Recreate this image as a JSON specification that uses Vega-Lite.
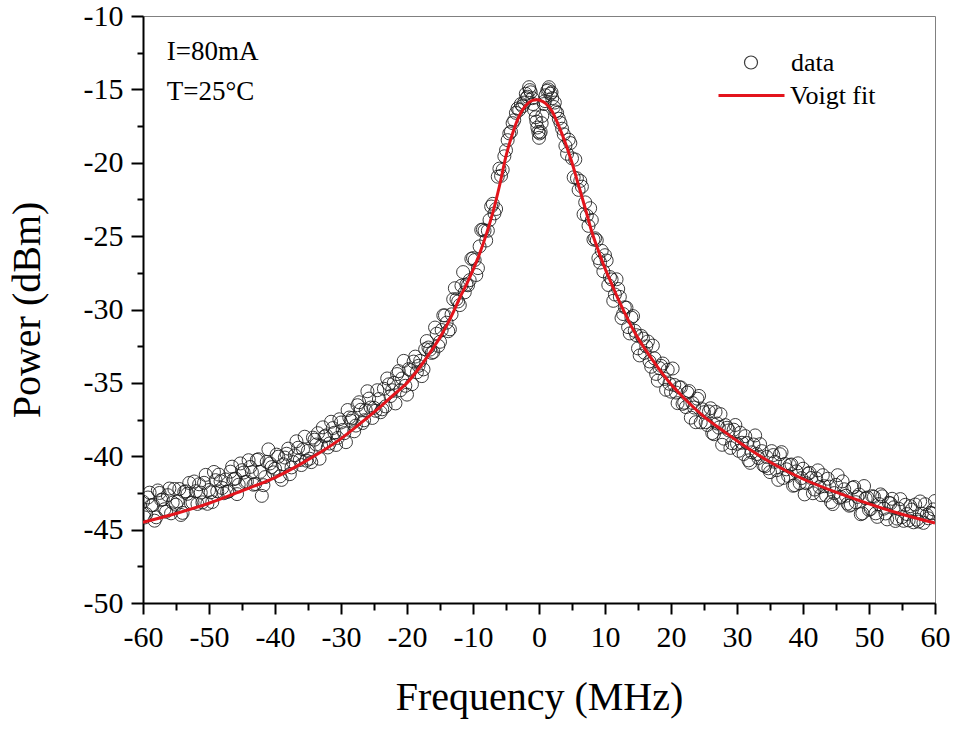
{
  "$schema": "https://vega.github.io/schema/vega-lite/v6.json",
  "width": 792,
  "height": 587,
  "autosize": {"type": "none"},
  "padding": {"left": 143, "top": 16, "right": 22, "bottom": 134},
  "background": "white",
  "config": {
    "font": "Liberation Serif",
    "view": {"stroke": "#808080", "strokeWidth": 1},
    "axis": {
      "grid": false,
      "domainColor": "black",
      "domainWidth": 2,
      "tickColor": "black",
      "tickWidth": 2,
      "labelFont": "Liberation Serif",
      "labelFontSize": 30,
      "labelColor": "black",
      "titleFont": "Liberation Serif",
      "titleFontSize": 40,
      "titleFontWeight": "normal",
      "titleColor": "black",
      "labelOverlap": false,
      "labelFlush": false
    },
    "legend": {
      "title": null,
      "orient": "none",
      "padding": 0,
      "labelFont": "Liberation Serif",
      "labelFontSize": 26,
      "labelColor": "black"
    }
  },
  "datasets": {
    "pts": [
      {"f": -60, "p": -43.1}, {"f": -59.5, "p": -43.94}, {"f": -59, "p": -42.48}, {"f": -58.5, "p": -43.32}, {"f": -58, "p": -44.16},
      {"f": -57.5, "p": -42.5}, {"f": -57, "p": -42.94}, {"f": -56.5, "p": -43.78}, {"f": -56, "p": -42.2}, {"f": -55.5, "p": -43.16},
      {"f": -55, "p": -43.3}, {"f": -54.5, "p": -42.23}, {"f": -54, "p": -43.86}, {"f": -53.5, "p": -42.39}, {"f": -53, "p": -41.82},
      {"f": -52.5, "p": -43.15}, {"f": -52, "p": -42.38}, {"f": -51.5, "p": -41.91}, {"f": -51, "p": -43.14}, {"f": -50.5, "p": -41.27},
      {"f": -50, "p": -42.3}, {"f": -49.5, "p": -43.12}, {"f": -49, "p": -41.63}, {"f": -48.5, "p": -41.25}, {"f": -48, "p": -42.16},
      {"f": -47.5, "p": -41.58}, {"f": -47, "p": -42.39}, {"f": -46.5, "p": -40.71}, {"f": -46, "p": -41.52}, {"f": -45.5, "p": -41.94},
      {"f": -45, "p": -40.95}, {"f": -44.5, "p": -41.76}, {"f": -44, "p": -40.27}, {"f": -43.5, "p": -41.08}, {"f": -43, "p": -41.89},
      {"f": -42.5, "p": -40.2}, {"f": -42, "p": -42.7}, {"f": -41.5, "p": -41.42}, {"f": -41, "p": -39.53}, {"f": -40.5, "p": -40.74},
      {"f": -40, "p": -40.85}, {"f": -39.5, "p": -40.03}, {"f": -39, "p": -41.61}, {"f": -38.5, "p": -40.09}, {"f": -38, "p": -39.48},
      {"f": -37.5, "p": -40.76}, {"f": -37, "p": -39.94}, {"f": -36.5, "p": -39.42}, {"f": -36, "p": -40.6}, {"f": -35.5, "p": -38.67},
      {"f": -35, "p": -39.63}, {"f": -34.5, "p": -40.4}, {"f": -34, "p": -38.87}, {"f": -33.5, "p": -38.43}, {"f": -33, "p": -39.3},
      {"f": -32.5, "p": -38.65}, {"f": -32, "p": -39.4}, {"f": -31.5, "p": -37.65}, {"f": -31, "p": -38.4}, {"f": -30.5, "p": -38.75},
      {"f": -30, "p": -37.7}, {"f": -29.5, "p": -38.43}, {"f": -29, "p": -36.85}, {"f": -28.5, "p": -37.58}, {"f": -28, "p": -38.3},
      {"f": -27.5, "p": -36.52}, {"f": -27, "p": -36.83}, {"f": -26.5, "p": -37.55}, {"f": -26, "p": -35.57}, {"f": -25.5, "p": -36.68},
      {"f": -25, "p": -36.7}, {"f": -24.5, "p": -35.5}, {"f": -24, "p": -37.0}, {"f": -23.5, "p": -35.4}, {"f": -23, "p": -34.7},
      {"f": -22.5, "p": -35.9}, {"f": -22, "p": -35.0}, {"f": -21.5, "p": -34.4}, {"f": -21, "p": -35.5}, {"f": -20.5, "p": -33.5},
      {"f": -20, "p": -35.8}, {"f": -19.5, "p": -34.13}, {"f": -19, "p": -33.55}, {"f": -18.5, "p": -34.28}, {"f": -18, "p": -33.5},
      {"f": -17.5, "p": -34.08}, {"f": -17, "p": -32.15}, {"f": -16.5, "p": -32.73}, {"f": -16, "p": -32.9}, {"f": -15.5, "p": -31.65},
      {"f": -15, "p": -32.2}, {"f": -14.5, "p": -30.4}, {"f": -14, "p": -30.9}, {"f": -13.5, "p": -31.35}, {"f": -13, "p": -29.3},
      {"f": -12.5, "p": -29.3}, {"f": -12, "p": -29.7}, {"f": -11.5, "p": -27.45}, {"f": -11, "p": -28.3}, {"f": -10.5, "p": -28.0},
      {"f": -10, "p": -26.5}, {"f": -9.5, "p": -27.65}, {"f": -9, "p": -25.7}, {"f": -8.5, "p": -24.55}, {"f": -8, "p": -25.3},
      {"f": -7.5, "p": -23.9}, {"f": -7, "p": -22.8}, {"f": -6.5, "p": -23.15}, {"f": -6, "p": -20.4}, {"f": -5.5, "p": -20.48},
      {"f": -5, "p": -19.15}, {"f": -4.5, "p": -18.0}, {"f": -4, "p": -17.3}, {"f": -3.5, "p": -16.6}, {"f": -3, "p": -16.4},
      {"f": -2.5, "p": -16.15}, {"f": -2.25, "p": -15.9}, {"f": -2, "p": -15.3}, {"f": -1.75, "p": -15.5}, {"f": -1.5, "p": -14.85},
      {"f": -1.25, "p": -15.2}, {"f": -1, "p": -15.6}, {"f": -0.75, "p": -16.4}, {"f": -0.5, "p": -16.9}, {"f": -0.25, "p": -17.6},
      {"f": 0, "p": -18.3}, {"f": 0.25, "p": -17.9}, {"f": 0.5, "p": -16.8}, {"f": 0.75, "p": -16.0}, {"f": 1, "p": -15.4},
      {"f": 1.25, "p": -15.1}, {"f": 1.5, "p": -14.85}, {"f": 1.75, "p": -15.3}, {"f": 2, "p": -15.6}, {"f": 2.25, "p": -16.2},
      {"f": 2.5, "p": -16.5}, {"f": 3, "p": -17.0}, {"f": 3.5, "p": -17.68}, {"f": 4, "p": -18.85}, {"f": 4.5, "p": -18.43},
      {"f": 5, "p": -19.7}, {"f": 5.5, "p": -19.78}, {"f": 6, "p": -21.85}, {"f": 6.5, "p": -21.63}, {"f": 7, "p": -22.7},
      {"f": 7.5, "p": -24.3}, {"f": 8, "p": -23.9}, {"f": 8.5, "p": -25.15}, {"f": 9, "p": -26.5}, {"f": 9.5, "p": -26.0},
      {"f": 10, "p": -26.3}, {"f": 10.5, "p": -28.33}, {"f": 11, "p": -27.95}, {"f": 11.5, "p": -28.98}, {"f": 12, "p": -28.6},
      {"f": 12.5, "p": -30.58}, {"f": 13, "p": -29.85}, {"f": 13.5, "p": -31.2}, {"f": 14, "p": -30.55}, {"f": 14.5, "p": -31.45},
      {"f": 15, "p": -32.65}, {"f": 15.5, "p": -31.8}, {"f": 16, "p": -32.95}, {"f": 16.5, "p": -32.18}, {"f": 17, "p": -33.9},
      {"f": 17.5, "p": -33.33}, {"f": 18, "p": -34.85}, {"f": 18.5, "p": -33.84}, {"f": 19, "p": -34.73}, {"f": 19.5, "p": -34.11},
      {"f": 20, "p": -35.6}, {"f": 20.5, "p": -35.14}, {"f": 21, "p": -36.38}, {"f": 21.5, "p": -35.31}, {"f": 22, "p": -36.35},
      {"f": 22.5, "p": -35.66}, {"f": 23, "p": -37.37}, {"f": 23.5, "p": -36.68}, {"f": 24, "p": -36.08}, {"f": 24.5, "p": -37.69},
      {"f": 25, "p": -37.0}, {"f": 25.5, "p": -37.87}, {"f": 26, "p": -36.73}, {"f": 26.5, "p": -38.5}, {"f": 27, "p": -37.77},
      {"f": 27.5, "p": -37.13}, {"f": 28, "p": -38.8}, {"f": 28.5, "p": -38.06}, {"f": 29, "p": -39.43}, {"f": 29.5, "p": -38.19},
      {"f": 30, "p": -39.15}, {"f": 30.5, "p": -38.4}, {"f": 31, "p": -39.85}, {"f": 31.5, "p": -39.1}, {"f": 32, "p": -40.45},
      {"f": 32.5, "p": -39.2}, {"f": 33, "p": -39.85}, {"f": 33.5, "p": -39.18}, {"f": 34, "p": -40.62}, {"f": 34.5, "p": -40.05},
      {"f": 35, "p": -41.08}, {"f": 35.5, "p": -39.92}, {"f": 36, "p": -40.95}, {"f": 36.5, "p": -39.86}, {"f": 37, "p": -41.48},
      {"f": 37.5, "p": -40.89}, {"f": 38, "p": -40.6}, {"f": 38.5, "p": -42.01}, {"f": 39, "p": -41.03}, {"f": 39.5, "p": -41.84},
      {"f": 40, "p": -40.85}, {"f": 40.5, "p": -41.84}, {"f": 41, "p": -41.13}, {"f": 41.5, "p": -42.52}, {"f": 42, "p": -41.51},
      {"f": 42.5, "p": -42.1}, {"f": 43, "p": -41.29}, {"f": 43.5, "p": -42.68}, {"f": 44, "p": -42.07}, {"f": 44.5, "p": -43.26},
      {"f": 45, "p": -41.95}, {"f": 45.5, "p": -42.83}, {"f": 46, "p": -41.71}, {"f": 46.5, "p": -42.69}, {"f": 47, "p": -43.37},
      {"f": 47.5, "p": -42.15}, {"f": 48, "p": -43.13}, {"f": 48.5, "p": -42.61}, {"f": 49, "p": -43.89}, {"f": 49.5, "p": -42.87},
      {"f": 50, "p": -43.65}, {"f": 50.5, "p": -42.72}, {"f": 51, "p": -43.89}, {"f": 51.5, "p": -43.26}, {"f": 52, "p": -42.73},
      {"f": 52.5, "p": -43.9}, {"f": 53, "p": -43.17}, {"f": 53.5, "p": -42.9}, {"f": 54, "p": -44.41}, {"f": 54.5, "p": -43.58},
      {"f": 55, "p": -44.15}, {"f": 55.5, "p": -43.31}, {"f": 56, "p": -44.37}, {"f": 56.5, "p": -43.63}, {"f": 57, "p": -43.29},
      {"f": 57.5, "p": -44.45}, {"f": 58, "p": -43.91}, {"f": 58.5, "p": -43.27}, {"f": 59, "p": -44.23}, {"f": 59.5, "p": -43.89},
      {"f": 60, "p": -43.05},
      {"f": -59.75, "p": -44.17}, {"f": -59.25, "p": -42.81}, {"f": -58.75, "p": -43.35}, {"f": -58.25, "p": -44.39}, {"f": -57.75, "p": -42.33},
      {"f": -57.25, "p": -42.97}, {"f": -56.75, "p": -43.61}, {"f": -56.25, "p": -42.65}, {"f": -55.75, "p": -43.89}, {"f": -55.25, "p": -42.23},
      {"f": -54.75, "p": -43.07}, {"f": -54.25, "p": -44.0}, {"f": -53.75, "p": -42.43}, {"f": -53.25, "p": -42.56}, {"f": -52.75, "p": -43.19},
      {"f": -52.25, "p": -41.72}, {"f": -51.75, "p": -43.25}, {"f": -51.25, "p": -42.48}, {"f": -50.75, "p": -41.81}, {"f": -50.25, "p": -43.24},
      {"f": -49.75, "p": -42.46}, {"f": -49.25, "p": -41.07}, {"f": -48.75, "p": -42.39}, {"f": -48.25, "p": -41.7}, {"f": -47.75, "p": -42.52},
      {"f": -47.25, "p": -42.43}, {"f": -46.75, "p": -41.05}, {"f": -46.25, "p": -41.56}, {"f": -45.75, "p": -42.58}, {"f": -45.25, "p": -40.49},
      {"f": -44.75, "p": -41.11}, {"f": -44.25, "p": -41.72}, {"f": -43.75, "p": -40.73}, {"f": -43.25, "p": -41.94}, {"f": -42.75, "p": -40.25},
      {"f": -42.25, "p": -41.06}, {"f": -41.75, "p": -41.97}, {"f": -41.25, "p": -40.38}, {"f": -40.75, "p": -40.49}, {"f": -40.25, "p": -41.1},
      {"f": -39.75, "p": -39.89}, {"f": -39.25, "p": -41.37}, {"f": -38.75, "p": -40.55}, {"f": -38.25, "p": -39.83}, {"f": -37.75, "p": -41.22},
      {"f": -37.25, "p": -40.4}, {"f": -36.75, "p": -38.98}, {"f": -36.25, "p": -40.26}, {"f": -35.75, "p": -39.53}, {"f": -35.25, "p": -40.3},
      {"f": -34.75, "p": -40.17}, {"f": -34.25, "p": -38.73}, {"f": -33.75, "p": -39.2}, {"f": -33.25, "p": -40.17}, {"f": -32.75, "p": -38.03},
      {"f": -32.25, "p": -38.58}, {"f": -31.75, "p": -39.13}, {"f": -31.25, "p": -38.08}, {"f": -30.75, "p": -39.23}, {"f": -30.25, "p": -37.48},
      {"f": -29.75, "p": -38.21}, {"f": -29.25, "p": -39.04}, {"f": -28.75, "p": -37.36}, {"f": -28.25, "p": -37.39}, {"f": -27.75, "p": -37.91},
      {"f": -27.25, "p": -36.32}, {"f": -26.75, "p": -37.74}, {"f": -26.25, "p": -36.86}, {"f": -25.75, "p": -36.07}, {"f": -25.25, "p": -37.39},
      {"f": -24.75, "p": -36.9}, {"f": -24.25, "p": -36.1}, {"f": -23.75, "p": -36.8}, {"f": -23.25, "p": -36.6}, {"f": -22.75, "p": -35.1},
      {"f": -22.25, "p": -35.5}, {"f": -21.75, "p": -36.4}, {"f": -21.25, "p": -34.2}, {"f": -20.75, "p": -34.7}, {"f": -20.25, "p": -35.2},
      {"f": -19.75, "p": -34.06}, {"f": -19.25, "p": -35.09}, {"f": -18.75, "p": -33.21}, {"f": -18.25, "p": -33.84}, {"f": -17.75, "p": -34.54},
      {"f": -17.25, "p": -32.71}, {"f": -16.75, "p": -32.59}, {"f": -16.25, "p": -32.96}, {"f": -15.75, "p": -31.23}, {"f": -15.25, "p": -32.48},
      {"f": -14.75, "p": -31.4}, {"f": -14.25, "p": -30.4}, {"f": -13.75, "p": -31.48}, {"f": -13.25, "p": -30.33}, {"f": -12.75, "p": -28.55},
      {"f": -12.25, "p": -29.45}, {"f": -11.75, "p": -28.38}, {"f": -11.25, "p": -28.83}, {"f": -10.75, "p": -28.35}, {"f": -10.25, "p": -26.55},
      {"f": -9.75, "p": -26.63}, {"f": -9.25, "p": -27.18}, {"f": -8.75, "p": -24.58}, {"f": -8.25, "p": -24.63}, {"f": -7.75, "p": -24.63},
      {"f": -7.25, "p": -22.98}, {"f": -6.75, "p": -23.45}, {"f": -6.25, "p": -20.95}, {"f": -5.75, "p": -20.89}, {"f": -5.25, "p": -19.56},
      {"f": -4.75, "p": -18.46}, {"f": -4.25, "p": -17.89}, {"f": -3.75, "p": -17.1}, {"f": -3.25, "p": -16.3}, {"f": -2.75, "p": -16.0},
      {"f": -1.9, "p": -15.6}, {"f": -1.4, "p": -15.05}, {"f": -0.9, "p": -16.0}, {"f": -0.4, "p": -17.2}, {"f": -0.1, "p": -17.9},
      {"f": 0.1, "p": -18.0}, {"f": 0.4, "p": -17.3}, {"f": 0.9, "p": -15.8}, {"f": 1.4, "p": -15.0}, {"f": 1.9, "p": -15.2},
      {"f": 2.4, "p": -15.9}, {"f": 2.75, "p": -16.6},
      {"f": 3.25, "p": -17.29}, {"f": 3.75, "p": -18.06}, {"f": 4.25, "p": -19.39}, {"f": 4.75, "p": -18.66}, {"f": 5.25, "p": -20.99},
      {"f": 5.75, "p": -21.06}, {"f": 6.25, "p": -21.24}, {"f": 6.75, "p": -23.51}, {"f": 7.25, "p": -23.6}, {"f": 7.75, "p": -23.1},
      {"f": 8.25, "p": -25.23}, {"f": 8.75, "p": -25.28}, {"f": 9.25, "p": -26.8}, {"f": 9.75, "p": -27.4}, {"f": 10.25, "p": -26.66},
      {"f": 10.75, "p": -27.79}, {"f": 11.25, "p": -29.41}, {"f": 11.75, "p": -27.94}, {"f": 12.25, "p": -29.14}, {"f": 12.75, "p": -30.31},
      {"f": 13.25, "p": -29.88}, {"f": 13.75, "p": -31.63}, {"f": 14.25, "p": -30.45}, {"f": 14.75, "p": -31.75}, {"f": 15.25, "p": -33.13},
      {"f": 15.75, "p": -31.98}, {"f": 16.25, "p": -32.51}, {"f": 16.75, "p": -33.54}, {"f": 17.25, "p": -32.46}, {"f": 17.75, "p": -34.39},
      {"f": 18.25, "p": -33.99}, {"f": 18.75, "p": -33.68}, {"f": 19.25, "p": -35.47}, {"f": 19.75, "p": -35.06}, {"f": 20.25, "p": -34.02},
      {"f": 20.75, "p": -35.66}, {"f": 21.25, "p": -35.3}, {"f": 21.75, "p": -36.43}, {"f": 22.25, "p": -36.65}, {"f": 22.75, "p": -35.56},
      {"f": 23.25, "p": -36.37}, {"f": 23.75, "p": -37.68}, {"f": 24.25, "p": -35.89}, {"f": 24.75, "p": -36.8}, {"f": 25.25, "p": -37.68},
      {"f": 25.75, "p": -36.95}, {"f": 26.25, "p": -38.42}, {"f": 26.75, "p": -36.98}, {"f": 27.25, "p": -38.05}, {"f": 27.75, "p": -39.22},
      {"f": 28.25, "p": -37.88}, {"f": 28.75, "p": -38.24}, {"f": 29.25, "p": -39.11}, {"f": 29.75, "p": -37.87}, {"f": 30.25, "p": -39.63},
      {"f": 30.75, "p": -39.08}, {"f": 31.25, "p": -38.63}, {"f": 31.75, "p": -40.28}, {"f": 32.25, "p": -39.73}, {"f": 32.75, "p": -38.58},
      {"f": 33.25, "p": -40.12}, {"f": 33.75, "p": -39.65}, {"f": 34.25, "p": -40.68}, {"f": 34.75, "p": -40.82}, {"f": 35.25, "p": -39.65},
      {"f": 35.75, "p": -40.38}, {"f": 36.25, "p": -41.61}, {"f": 36.75, "p": -39.72}, {"f": 37.25, "p": -40.53}, {"f": 37.75, "p": -41.34},
      {"f": 38.25, "p": -40.56}, {"f": 38.75, "p": -41.97}, {"f": 39.25, "p": -40.48}, {"f": 39.75, "p": -41.49}, {"f": 40.25, "p": -42.6},
      {"f": 40.75, "p": -41.19}, {"f": 41.25, "p": -41.48}, {"f": 41.75, "p": -42.27}, {"f": 42.25, "p": -40.96}, {"f": 42.75, "p": -42.65},
      {"f": 43.25, "p": -42.04}, {"f": 43.75, "p": -41.53}, {"f": 44.25, "p": -43.12}, {"f": 44.75, "p": -42.51}, {"f": 45.25, "p": -41.29},
      {"f": 45.75, "p": -42.77}, {"f": 46.25, "p": -42.25}, {"f": 46.75, "p": -43.23}, {"f": 47.25, "p": -43.31}, {"f": 47.75, "p": -42.09},
      {"f": 48.25, "p": -42.77}, {"f": 48.75, "p": -43.95}, {"f": 49.25, "p": -42.03}, {"f": 49.75, "p": -42.81}, {"f": 50.25, "p": -43.59},
      {"f": 50.75, "p": -42.76}, {"f": 51.25, "p": -44.13}, {"f": 51.75, "p": -42.6}, {"f": 52.25, "p": -43.57}, {"f": 52.75, "p": -44.3},
      {"f": 53.25, "p": -43.21}, {"f": 53.75, "p": -43.48}, {"f": 54.25, "p": -44.25}, {"f": 54.75, "p": -42.92}, {"f": 55.25, "p": -44.4},
      {"f": 55.75, "p": -43.94}, {"f": 56.25, "p": -43.4}, {"f": 56.75, "p": -44.5}, {"f": 57.25, "p": -44.32}, {"f": 57.75, "p": -43.08},
      {"f": 58.25, "p": -44.54}, {"f": 58.75, "p": -44.0}, {"f": 59.25, "p": -43.86}, {"f": 59.75, "p": -43.62}
    ],
    "fit": [
      {"f": -60, "p": -44.5}, {"f": -55, "p": -43.9}, {"f": -50, "p": -43.2}, {"f": -45, "p": -42.35}, {"f": -40, "p": -41.45},
      {"f": -36, "p": -40.5}, {"f": -33, "p": -39.7}, {"f": -30, "p": -38.8}, {"f": -28, "p": -38.1}, {"f": -25, "p": -37.0},
      {"f": -22, "p": -35.8}, {"f": -20, "p": -35.0}, {"f": -18, "p": -33.9}, {"f": -16, "p": -32.6}, {"f": -15, "p": -31.9},
      {"f": -14, "p": -31.1}, {"f": -13, "p": -30.2}, {"f": -12, "p": -29.2}, {"f": -11, "p": -28.3}, {"f": -10, "p": -27.3},
      {"f": -9, "p": -26.2}, {"f": -8, "p": -24.9}, {"f": -7, "p": -23.4}, {"f": -6, "p": -21.6}, {"f": -5, "p": -19.55},
      {"f": -4, "p": -18.0}, {"f": -3, "p": -16.8}, {"f": -2, "p": -16.1}, {"f": -1, "p": -15.75}, {"f": -0.3, "p": -15.7},
      {"f": 0, "p": -15.72}, {"f": 1, "p": -15.95}, {"f": 2, "p": -16.5}, {"f": 3, "p": -17.5}, {"f": 4, "p": -18.65},
      {"f": 5, "p": -20.0}, {"f": 6, "p": -21.55}, {"f": 7, "p": -23.1}, {"f": 8, "p": -24.7}, {"f": 9, "p": -26.0},
      {"f": 10, "p": -27.2}, {"f": 11, "p": -28.25}, {"f": 12, "p": -29.3}, {"f": 13, "p": -30.25}, {"f": 14, "p": -31.15},
      {"f": 15, "p": -31.95}, {"f": 16, "p": -32.65}, {"f": 18, "p": -33.95}, {"f": 20, "p": -35.1}, {"f": 22, "p": -36.05},
      {"f": 25, "p": -37.3}, {"f": 28, "p": -38.3}, {"f": 30, "p": -38.95}, {"f": 33, "p": -39.85}, {"f": 36, "p": -40.65},
      {"f": 40, "p": -41.55}, {"f": 45, "p": -42.45}, {"f": 50, "p": -43.25}, {"f": 55, "p": -43.95}, {"f": 60, "p": -44.55}
    ],
    "notes": [
      {"f": -56.4, "p": -13.0, "t": "I=80mA"},
      {"f": -56.4, "p": -15.72, "t": "T=25°C"}
    ]
  },
  "encoding": {
    "x": {
      "field": "f",
      "type": "quantitative",
      "scale": {"domain": [-60, 60], "nice": false, "zero": false},
      "axis": {
        "values": [-60, -55, -50, -45, -40, -35, -30, -25, -20, -15, -10, -5, 0, 5, 10, 15, 20, 25, 30, 35, 40, 45, 50, 55, 60],
        "labelExpr": "datum.value % 10 === 0 ? '' + datum.value : ''",
        "tickSize": {"condition": {"test": "datum.value % 10 === 0", "value": 11}, "value": 7},
        "labelPadding": 8,
        "title": "Frequency (MHz)",
        "titleX": 396,
        "titleY": 106,
        "titleBaseline": "alphabetic"
      }
    },
    "y": {
      "field": "p",
      "type": "quantitative",
      "scale": {"domain": [-50, -10], "nice": false, "zero": false},
      "axis": {
        "values": [-50, -47.5, -45, -42.5, -40, -37.5, -35, -32.5, -30, -27.5, -25, -22.5, -20, -17.5, -15, -12.5, -10],
        "labelExpr": "datum.value % 5 === 0 ? '' + datum.value : ''",
        "tickSize": {"condition": {"test": "datum.value % 5 === 0", "value": 12}, "value": 6},
        "labelPadding": 8,
        "title": "Power (dBm)",
        "titleX": -104,
        "titleY": 293.5,
        "titleAngle": -90,
        "titleBaseline": "alphabetic"
      }
    }
  },
  "layer": [
    {
      "data": {"name": "pts"},
      "mark": {"type": "point", "filled": false, "color": "#1a1a1a", "size": 169, "strokeWidth": 1, "opacity": 0.85, "clip": true},
      "encoding": {
        "shape": {
          "datum": "data",
          "type": "nominal",
          "scale": {"domain": ["data"], "range": ["circle"]},
          "legend": {
            "legendX": 595,
            "legendY": 33.5,
            "symbolSize": 169,
            "symbolStrokeWidth": 1.2,
            "symbolStrokeColor": "#1a1a1a",
            "symbolFillColor": "transparent",
            "labelOffset": 27
          }
        }
      }
    },
    {
      "data": {"name": "fit"},
      "mark": {"type": "line", "strokeWidth": 3, "interpolate": "monotone", "clip": true},
      "encoding": {
        "color": {
          "datum": "Voigt fit",
          "type": "nominal",
          "scale": {"domain": ["Voigt fit"], "range": ["#e3141c"]},
          "legend": {
            "legendX": 574,
            "legendY": 45,
            "symbolType": "stroke",
            "symbolSize": 4356,
            "symbolStrokeWidth": 3,
            "labelOffset": 4
          }
        }
      }
    },
    {
      "data": {"name": "notes"},
      "mark": {"type": "text", "align": "left", "baseline": "alphabetic", "fontSize": 27, "font": "Liberation Serif", "color": "black"},
      "encoding": {
        "text": {"field": "t", "type": "nominal"}
      }
    }
  ]
}
